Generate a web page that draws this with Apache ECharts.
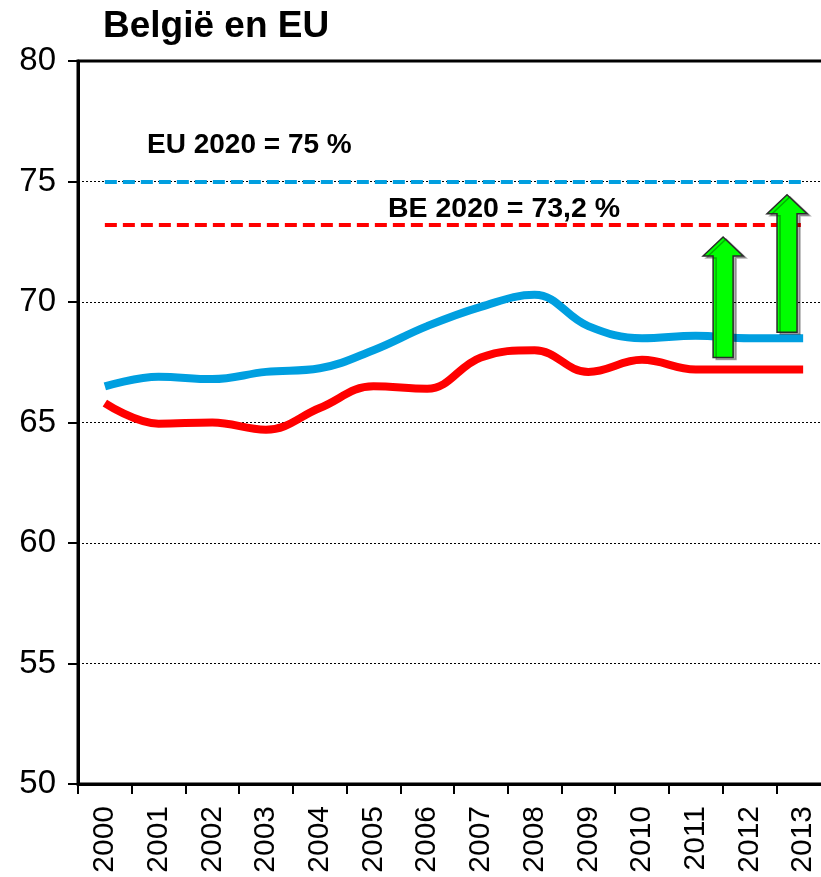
<!DOCTYPE html>
<html lang="nl">
<head>
    <meta charset="UTF-8"/>
    <script src="https://cdn.jsdelivr.net/npm/echarts@6/dist/echarts.min.js"></script>
    <title>België en EU</title>
    <style>
        html, body { margin: 0; padding: 0; background: #fff; }
        #chart { width: 821px; height: 877px; }
    </style>
</head>
<body>
<div id="chart"></div>
<script type="text/javascript">
    // jaren en werkgelegenheidsgraad (20-64 jaar)
    var years = ['2000', '2001', '2002', '2003', '2004', '2005', '2006',
                 '2007', '2008', '2009', '2010', '2011', '2012', '2013'];
    var euValues = [66.5, 66.9, 66.8, 67.1, 67.25, 68.0, 69.0, 69.8, 70.3, 69.0, 68.5, 68.6, 68.5, 68.5];
    var beValues = [65.8, 64.95, 65.0, 64.7, 65.6, 66.5, 66.4, 67.7, 68.0, 67.1, 67.6, 67.2, 67.2, 67.2];

    var euTarget = 75;
    var beTarget = 73.2;

    // pijlen: [categorie-index, verschuiving in categoriebreedte, van, tot]
    var arrows = [
        [11, 0.51, 67.7, 72.7],
        [12, 0.70, 68.75, 74.45]
    ];

    var yTicks = [50, 55, 60, 65, 70, 75, 80];

    var myChart = echarts.init(document.getElementById('chart'));

    function arrowItem(params, api) {
        var cat = api.value(0);
        var frac = api.value(1);
        var bw = api.size([1, 0])[0];
        var pLow = api.coord([cat, api.value(2)]);
        var pHigh = api.coord([cat, api.value(3)]);
        var x = pLow[0] + frac * bw;
        var yb = pLow[1], yt = pHigh[1];
        var hw = 20, sw = 10, hh = 19;
        return {
            type: 'polygon',
            shape: {
                points: [
                    [x, yt], [x + hw, yt + hh], [x + sw, yt + hh], [x + sw, yb],
                    [x - sw, yb], [x - sw, yt + hh], [x - hw, yt + hh]
                ]
            },
            style: {
                fill: '#00FF00',
                stroke: '#2b2b2b',
                lineWidth: 1.5,
                shadowColor: 'rgba(0,0,0,0.3)',
                shadowOffsetX: 3,
                shadowOffsetY: 2,
                shadowBlur: 0
            }
        };
    }

    function targetLine(val, color) {
        return {
            silent: true,
            symbol: ['none', 'none'],
            label: { show: false },
            lineStyle: { color: color, width: 4, type: [12, 6] },
            data: [[{ coord: [years[0], val] }, { coord: [years[years.length - 1], val] }]]
        };
    }

    var option = {
        animation: false,
        title: {
            text: 'België en EU',
            left: 98,
            top: 3,
            textStyle: {
                fontFamily: 'Liberation Sans',
                fontWeight: 'bold',
                fontSize: 37,
                color: '#000'
            }
        },
        grid: {
            left: 78,
            top: 61,
            width: 752,
            bottom: 93,
            outerBoundsMode: 'none',
            containLabel: false,
            show: true,
            borderColor: '#000',
            borderWidth: 3
        },
        xAxis: {
            type: 'category',
            data: years,
            axisLine: { lineStyle: { color: '#000', width: 3 } },
            axisTick: { show: true, length: 10, lineStyle: { color: '#000', width: 2 } },
            axisLabel: {
                rotate: 90,
                margin: 22,
                fontFamily: 'Liberation Sans',
                fontSize: 30,
                color: '#000'
            }
        },
        yAxis: {
            type: 'value',
            min: yTicks[0],
            max: yTicks[yTicks.length - 1],
            interval: 5,
            axisLine: { show: true, lineStyle: { color: '#000', width: 3 } },
            axisTick: { show: true, length: 10, lineStyle: { color: '#000', width: 2 } },
            axisLabel: {
                margin: 22,
                fontFamily: 'Liberation Sans',
                fontSize: 33,
                color: '#000'
            },
            splitLine: { lineStyle: { color: '#000', width: 1, type: [2, 2] } }
        },
        graphic: [
            {
                type: 'text',
                left: 147,
                top: 131,
                style: {
                    text: 'EU 2020 = 75 %',
                    font: 'bold 28px "Liberation Sans"',
                    fill: '#000'
                }
            },
            {
                type: 'text',
                left: 388,
                top: 195,
                style: {
                    text: 'BE 2020 = 73,2 %',
                    font: 'bold 28.5px "Liberation Sans"',
                    fill: '#000'
                }
            }
        ],
        series: [
            {
                name: 'EU',
                type: 'line',
                data: euValues,
                smooth: 0.4,
                showSymbol: false,
                lineStyle: { color: '#009FE0', width: 8 },
                markLine: targetLine(euTarget, '#009FE0'),
                z: 3
            },
            {
                name: 'België',
                type: 'line',
                data: beValues,
                smooth: 0.4,
                showSymbol: false,
                lineStyle: { color: '#FF0000', width: 8 },
                markLine: targetLine(beTarget, '#FF0000'),
                z: 3
            },
            {
                name: 'pijlen',
                type: 'custom',
                renderItem: arrowItem,
                data: arrows,
                encode: { x: 0, y: [2, 3] },
                clip: false,
                z: 5
            }
        ]
    };

    myChart.setOption(option);
</script>
</body>
</html>
